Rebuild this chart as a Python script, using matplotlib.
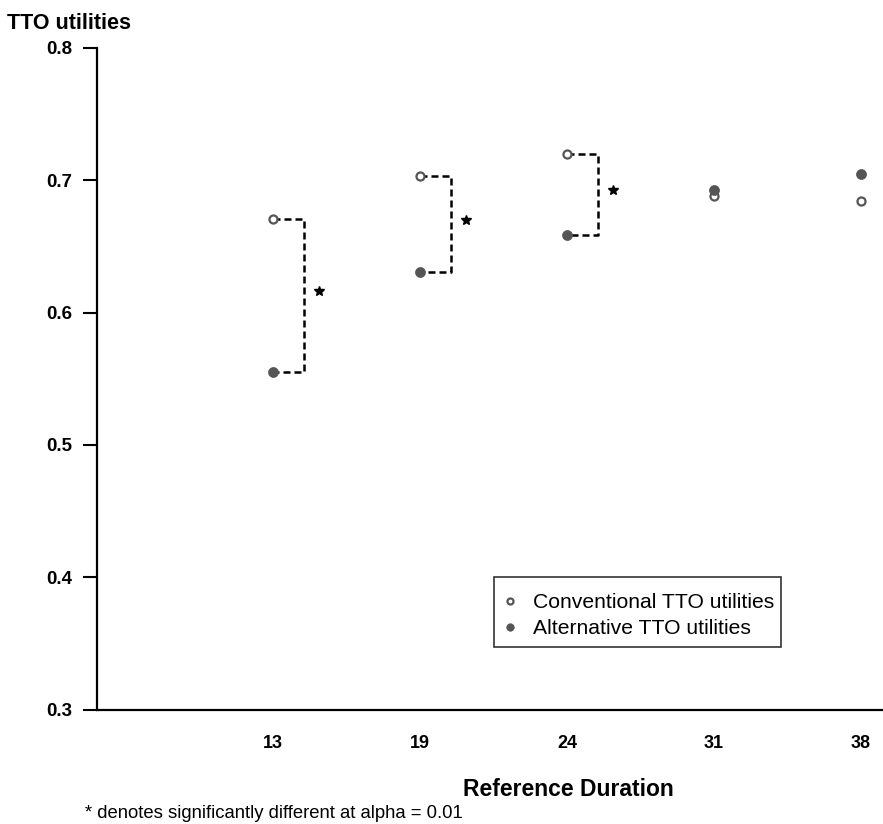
import matplotlib
matplotlib.use("Agg")
import matplotlib.pyplot as plt
from matplotlib.patches import Rectangle
import numpy as np

# ---- data ----
durations = ["13", "19", "24", "31", "38"]
conventional = [0.671, 0.703, 0.720, 0.688, 0.684]
alternative = [0.555, 0.631, 0.659, 0.693, 0.705]
significant = [True, True, True, False, False]
y_ticks = [0.3, 0.4, 0.5, 0.6, 0.7, 0.8]

plt.rcParams['font.family'] = ['Liberation Sans', 'DejaVu Sans']

W, H = 883, 824
fig = plt.figure(figsize=(W / 100, H / 100), dpi=100)
ax = fig.add_axes([97 / W, (H - 709.5) / H, (883 - 97) / W, (709.5 - 48) / H])

x = np.arange(len(durations))
gray = '#555555'

# brackets for significant differences
for xi, c, a, s in zip(x, conventional, alternative, significant):
    if s:
        xv = xi + 0.21
        ax.plot([xi, xv, xv, xi], [c, c, a, a], color='black', lw=1.8,
                dashes=(2.8, 1.6), zorder=2, solid_capstyle='butt', dash_capstyle='butt')
        ax.plot([xi + 0.31], [(c + a) / 2 + 0.003], marker='*', color='black',
                markersize=7, linestyle='none', zorder=3)

ax.plot(x, conventional, linestyle='none', marker='o', markersize=5.8,
        markerfacecolor='white', markeredgecolor=gray, markeredgewidth=1.6,
        label='Conventional TTO utilities', zorder=4)
ax.plot(x, alternative, linestyle='none', marker='o', markersize=7.2,
        markerfacecolor=gray, markeredgecolor=gray, markeredgewidth=0.5,
        label='Alternative TTO utilities', zorder=4)

ax.set_xlim((97 - 273) / 147, (883 - 273) / 147)
ax.set_ylim(0.3, 0.8)
ax.set_yticks(y_ticks)
ax.set_yticklabels([f"{v:.1f}" for v in y_ticks], fontsize=13.5, fontweight='bold')
ax.set_xticks(x)
ax.set_xticklabels(durations, fontsize=13, fontweight='bold')

for sp in ['top', 'right']:
    ax.spines[sp].set_visible(False)
for sp in ['left', 'bottom']:
    ax.spines[sp].set_linewidth(1.6)
    ax.spines[sp].set_color('black')
ax.tick_params(axis='y', direction='out', length=10, width=1.5, pad=8)
ax.tick_params(axis='x', length=0, pad=18)

ax.set_xlabel('Reference Duration', fontsize=16.5, fontweight='bold', labelpad=14)
ax.xaxis.set_label_coords((568 - 97) / (883 - 97), -(778 - 709.5) / (709.5 - 48))

fig.text(7 / W, 1 - 23.5 / H, 'TTO utilities', fontsize=15.5, fontweight='bold',
         ha='left', va='center')
fig.text(85 / W, 1 - 813 / H, '* denotes significantly different at alpha = 0.01',
         fontsize=13.3, ha='left', va='center')

# legend (frameless) + explicit box
leg = ax.legend(loc='upper left', bbox_to_anchor=(502.6 / W, 1 - 592.9 / H),
                bbox_transform=fig.transFigure, borderaxespad=0, fontsize=15.2,
                frameon=False, handlelength=0.7, handletextpad=0.74, borderpad=0,
                labelspacing=0.36, markerscale=0.75)
leg.set_zorder(6)
ax.add_patch(Rectangle((494 / W, 1 - 647 / H), (781 - 494) / W, (647 - 577) / H,
                       transform=fig.transFigure, facecolor='white',
                       edgecolor='#333333', linewidth=1.2, zorder=5, clip_on=False))

fig.savefig('out.png', dpi=100)
